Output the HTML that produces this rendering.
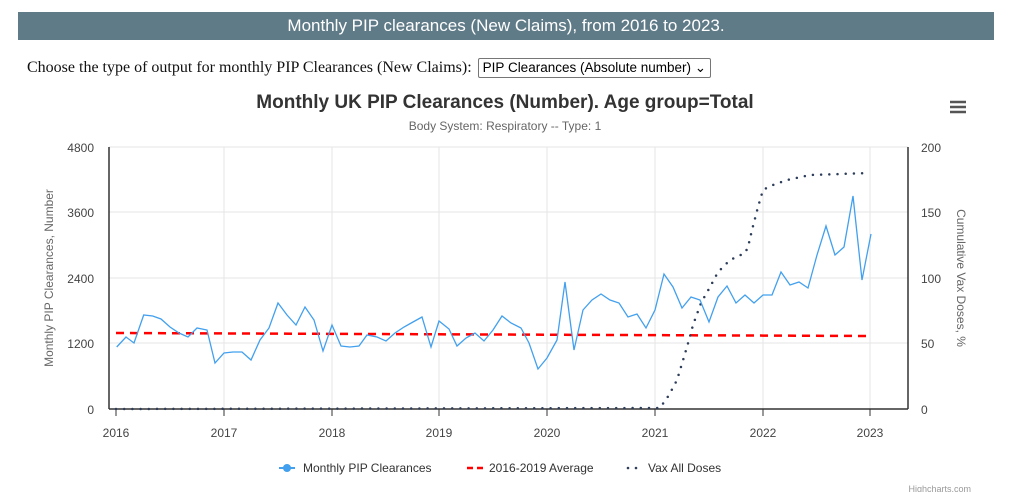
<!DOCTYPE html>
<html><head><meta charset="utf-8"><style>
body{margin:0;width:1023px;height:492px;background:#fff;overflow:hidden;position:relative;font-family:"Liberation Sans",sans-serif}
.bar{position:absolute;left:18px;top:12px;width:976px;height:28px;background:#607b88;color:#fff;font-size:17px;text-align:center;line-height:27px}
.ch{position:absolute;left:27px;top:58px;font-family:"Liberation Serif",serif;font-size:16px;color:#111}
.sel{display:inline-block;border:1px solid #767676;border-radius:2px;font-family:"Liberation Sans",sans-serif;font-size:13.5px;padding:1px 4px;margin-left:2px;color:#000}
svg{position:absolute;left:0;top:0}
</style></head><body>
<div class="bar">Monthly PIP clearances (New Claims), from 2016 to 2023.</div>
<div class="ch">Choose the type of output for monthly PIP Clearances (New Claims): <span class="sel">PIP Clearances (Absolute number) &#8964;</span></div>
<svg width="1023" height="492" font-family="Liberation Sans, sans-serif">
<text x="505" y="108" text-anchor="middle" font-size="19" font-weight="bold" fill="#333">Monthly UK PIP Clearances (Number). Age group=Total</text>
<text x="505" y="130" text-anchor="middle" font-size="12" fill="#666">Body System: Respiratory -- Type: 1</text>
<g stroke="#555" stroke-width="2.5"><line x1="950" y1="102" x2="966" y2="102"/><line x1="950" y1="107" x2="966" y2="107"/><line x1="950" y1="112" x2="966" y2="112"/></g>
<g stroke="#e6e6e6" stroke-width="1">
<line x1="109" y1="147" x2="908" y2="147"/><line x1="109" y1="212" x2="908" y2="212"/><line x1="109" y1="278" x2="908" y2="278"/><line x1="109" y1="343" x2="908" y2="343"/>
<line x1="224" y1="147" x2="224" y2="409"/><line x1="332" y1="147" x2="332" y2="409"/><line x1="439" y1="147" x2="439" y2="409"/><line x1="547" y1="147" x2="547" y2="409"/><line x1="655" y1="147" x2="655" y2="409"/><line x1="763" y1="147" x2="763" y2="409"/><line x1="870" y1="147" x2="870" y2="409"/>
</g>
<g stroke="#333" stroke-width="1.5"><line x1="109" y1="147" x2="109" y2="409"/><line x1="908" y1="147" x2="908" y2="409"/><line x1="109" y1="409" x2="908" y2="409"/></g>
<g stroke="#333" stroke-width="1">
<line x1="116" y1="409" x2="116" y2="416"/><line x1="224" y1="409" x2="224" y2="416"/><line x1="332" y1="409" x2="332" y2="416"/><line x1="439" y1="409" x2="439" y2="416"/><line x1="547" y1="409" x2="547" y2="416"/><line x1="655" y1="409" x2="655" y2="416"/><line x1="763" y1="409" x2="763" y2="416"/><line x1="870" y1="409" x2="870" y2="416"/>
</g>
<g font-size="12" fill="#444" text-anchor="end"><text x="94" y="152">4800</text><text x="94" y="217">3600</text><text x="94" y="283">2400</text><text x="94" y="348">1200</text><text x="94" y="414">0</text></g>
<g font-size="12" fill="#444"><text x="921" y="152">200</text><text x="921" y="217">150</text><text x="921" y="283">100</text><text x="921" y="348">50</text><text x="921" y="414">0</text></g>
<g font-size="12" fill="#444" text-anchor="middle"><text x="116" y="437">2016</text><text x="224" y="437">2017</text><text x="332" y="437">2018</text><text x="439" y="437">2019</text><text x="547" y="437">2020</text><text x="655" y="437">2021</text><text x="763" y="437">2022</text><text x="870" y="437">2023</text></g>
<text transform="translate(53,278) rotate(-90)" text-anchor="middle" font-size="12" fill="#666">Monthly PIP Clearances, Number</text>
<text transform="translate(957,278) rotate(90)" text-anchor="middle" font-size="12" fill="#666">Cumulative Vax Doses, %</text>
<line x1="116" y1="333" x2="870" y2="336" stroke="#f00" stroke-width="2.5" stroke-dasharray="8 6"/>
<polyline fill="none" stroke="#2d3d5a" stroke-width="2.5" stroke-linecap="round" stroke-dasharray="0 8.2" points="116,409 660,408 669,395 677,380 684,357 689,340 693,325 701,303 710,287 718,272 730,260 745,253 748,247 752,230 758,207 763,190 770,186 787,180 810,175 840,174 870,173"/>
<polyline fill="none" stroke="#42a0ee" stroke-width="1.3" points="116.7,347 126,337 134,343 143.7,315 152.7,316 161,319 170,327 179,333 188,337 197,328 207,330 215,363 224,353 233,352 242,352 251,360 260,340 269,328 278,303 287,315 296,325 305,307 314,320 323,351 332,325 341,346 350,347 359,346 367,335 377,337 386,341 395,333 404,327 413,322 422,317 431,347 439,321 449,329 457,346 466,338 475,333 484,341 493,330 502,316 511,323 521,328 529,343 538,369 547,358 557,340 565,282 574,350 583,310 592,300 601,294 610,300 619,303 628,317 637,314 646,328 655,310 664,274 673,287 682,308 691,297 700,300 709,322 718,297 727,286 736,303 745,295 754,303 763,295 772,295 781,272 790,285 799,282 808,288 817,255 826,226 835,255 844,247 853,196 862,280 871,234"/>
<g font-size="12" fill="#333">
<line x1="279" y1="468" x2="295" y2="468" stroke="#42a0ee" stroke-width="2"/><circle cx="287" cy="468" r="4" fill="#42a0ee"/>
<text x="303" y="472">Monthly PIP Clearances</text>
<line x1="467" y1="468" x2="483" y2="468" stroke="#f00" stroke-width="2.5" stroke-dasharray="6 4"/>
<text x="489" y="472">2016-2019 Average</text>
<circle cx="628" cy="468" r="1.3" fill="#2d3d5a"/><circle cx="636" cy="468" r="1.3" fill="#2d3d5a"/>
<text x="648" y="472">Vax All Doses</text>
</g>
<text x="971" y="492" text-anchor="end" font-size="9" fill="#999">Highcharts.com</text>
</svg>
</body></html>
